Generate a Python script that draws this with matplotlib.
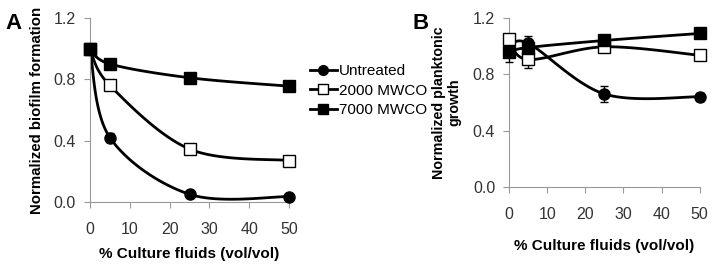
import numpy as np
import matplotlib.pyplot as plt
from matplotlib.lines import Line2D

plt.rcParams['font.family'] = ['Liberation Sans', 'DejaVu Sans']

# ---------------- DATA ----------------
x = [0, 5, 25, 50]

# Panel A: normalized biofilm formation
a_untreated = [1.0, 0.42, 0.05, 0.035]
a_untreated_err = [0.0, 0.03, 0.01, 0.01]
a_2000 = [1.0, 0.76, 0.345, 0.27]
a_2000_err = [0.0, 0.02, 0.01, 0.01]
a_7000 = [1.0, 0.90, 0.81, 0.755]
a_7000_err = [0.0, 0.01, 0.03, 0.01]

# Panel B: normalized planktonic growth
b_untreated = [0.98, 1.02, 0.66, 0.64]
b_untreated_err = [0.03, 0.05, 0.06, 0.03]
b_2000 = [1.05, 0.905, 0.995, 0.935]
b_2000_err = [0.02, 0.06, 0.04, 0.02]
b_7000 = [0.96, 0.99, 1.04, 1.09]
b_7000_err = [0.07, 0.03, 0.01, 0.01]

labels = ["Untreated", "2000 MWCO", "7000 MWCO"]
yticks = [0.0, 0.4, 0.8, 1.2]
xticks = [0, 10, 20, 30, 40, 50]


def smooth(xs, ys, n=40):
    # Excel-like smoothed line (Catmull-Rom style bezier)
    xs = np.asarray(xs, float)
    ys = np.asarray(ys, float)
    px = np.concatenate([[xs[0]], xs, [xs[-1]]])
    py = np.concatenate([[ys[0]], ys, [ys[-1]]])
    ox, oy = [], []
    t = np.linspace(0, 1, n)
    for i in range(1, len(px) - 2):
        p0 = np.array([px[i], py[i]])
        p3 = np.array([px[i + 1], py[i + 1]])
        p1 = p0 + (np.array([px[i + 1], py[i + 1]]) - np.array([px[i - 1], py[i - 1]])) / 6
        p2 = p3 - (np.array([px[i + 2], py[i + 2]]) - np.array([px[i], py[i]])) / 6
        bx = (1 - t) ** 3 * p0[0] + 3 * (1 - t) ** 2 * t * p1[0] + 3 * (1 - t) * t ** 2 * p2[0] + t ** 3 * p3[0]
        by = (1 - t) ** 3 * p0[1] + 3 * (1 - t) ** 2 * t * p1[1] + 3 * (1 - t) * t ** 2 * p2[1] + t ** 3 * p3[1]
        ox.extend(bx)
        oy.extend(by)
    return ox, oy


styles = [
    dict(marker="o", mfc="black"),
    dict(marker="s", mfc="white"),
    dict(marker="s", mfc="black"),
]


def panel(ax, series, errs):
    for ys, es, st in zip(series, errs, styles):
        sx, sy = smooth(x, ys)
        ax.plot(sx, sy, color="black", lw=2, clip_on=False, zorder=2)
        ax.errorbar(x, ys, yerr=es, fmt="none", ecolor="black", elinewidth=1,
                    capsize=3, clip_on=False, zorder=3)
        ax.plot(x, ys, ls="none", marker=st["marker"], mfc=st["mfc"], mec="black",
                ms=8, mew=1, clip_on=False, zorder=4)
    ax.set_xlim(0, 50)
    ax.set_ylim(0, 1.2)
    ax.set_xticks(xticks)
    ax.set_yticks(yticks)
    ax.set_yticklabels([f"{v:.1f}" for v in yticks])
    for s in ["top", "right"]:
        ax.spines[s].set_visible(False)
    for s in ["left", "bottom"]:
        ax.spines[s].set_color("#999999")
        ax.spines[s].set_linewidth(0.8)
    ax.tick_params(direction="out", length=4, color="#999999", labelsize=11.5,
                   labelcolor="#333333", pad=6)
    ax.tick_params(axis="x", pad=10.5)


fig = plt.figure(figsize=(7.14, 2.64), dpi=100)

axA = fig.add_axes([0.126, 0.235, 0.279, 0.697])
panel(axA, [a_untreated, a_2000, a_7000], [a_untreated_err, a_2000_err, a_7000_err])
axA.set_ylabel("Normalized biofilm formation", fontsize=10.8, fontweight="bold", labelpad=7)
axA.set_xlabel("% Culture fluids (vol/vol)", fontsize=11, fontweight="bold", labelpad=7)

axB = fig.add_axes([0.713, 0.292, 0.267, 0.640])
panel(axB, [b_untreated, b_2000, b_7000], [b_untreated_err, b_2000_err, b_7000_err])
axB.set_ylabel("Normalized planktonic\ngrowth", fontsize=10.3, fontweight="bold", labelpad=8)
axB.set_xlabel("% Culture fluids (vol/vol)", fontsize=11, fontweight="bold", labelpad=12)

fig.text(0.008, 0.89, "A", fontsize=16, fontweight="bold")
fig.text(0.578, 0.89, "B", fontsize=16, fontweight="bold")

handles = [Line2D([0], [0], color="black", lw=2, marker=st["marker"], mfc=st["mfc"],
                  mec="black", ms=7) for st in styles]
fig.legend(handles, labels, loc="upper left", bbox_to_anchor=(0.425, 0.78),
           frameon=False, fontsize=11, handlelength=1.8, handletextpad=0.1,
           labelspacing=0.35, borderaxespad=0)

fig.savefig("out.png", dpi=100)
